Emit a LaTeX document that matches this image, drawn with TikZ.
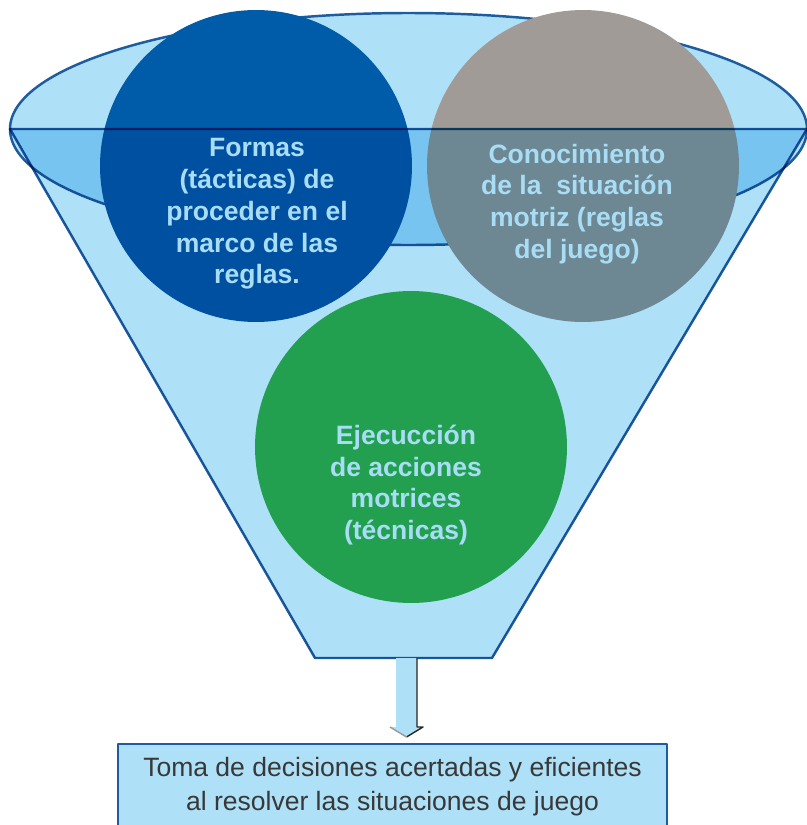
\documentclass[tikz,border=0pt]{standalone}
\usepackage{fontspec}
\setsansfont{Liberation Sans}
\usetikzlibrary{calc}

\definecolor{embudo}{HTML}{AEE0F7}
\definecolor{borde}{HTML}{1D5C9E}
\definecolor{azul}{HTML}{005CA8}
\definecolor{gris}{HTML}{A09B97}
\definecolor{verde}{HTML}{22A050}
\definecolor{letra}{HTML}{A9DDF6}

\begin{document}
\begin{tikzpicture}[x=0.02cm, y=-0.02cm, line join=round,
    contorno/.style={draw=borde, line width=1.4pt, fill=embudo},
    esfera/.style={circle, minimum size=6.24cm, inner sep=0pt},
    rotulo/.style={font=\sffamily\bfseries\fontsize{15.1}{18.1}\selectfont, text=letra, align=center},
    caja/.style={draw=borde, line width=1.4pt, fill=embudo, minimum width=10.98cm, minimum height=1.68cm,
        font=\sffamily\fontsize{15.1}{19.3}\selectfont, text=black!78, align=center},
    sombra/.style={draw=black!85, line width=0.8pt}]
    \useasboundingbox (0,0) rectangle (807,825);
    % boca del embudo
    \draw [contorno] (408.5,129) ellipse [x radius=398.5, y radius=116];
    \node [esfera, fill=azul] (formas) at (256,166) {};
    \node [esfera, fill=gris] (conocimiento) at (583,166) {};
    % cuerpo del embudo
    \begin{scope}[blend mode=multiply]
        \draw [contorno] (10,129) -- (807,129) -- (492,658) -- (315,658) -- cycle;
    \end{scope}
    \node [esfera, fill=verde] (ejecucion) at (411,447) {};

    \node [rotulo] (formas texto) at (257,214) {Formas\\(tácticas) de\\proceder en el\\marco de las\\reglas.};
    \node [rotulo] (conocimiento texto) at (577,204) {Conocimiento\\de la\ \ situación\\motriz (reglas\\del juego)};
    \node [rotulo] (ejecucion texto) at (406,485) {Ejecucción\\de acciones\\motrices\\(técnicas)};

    % salida
    \coordinate (cuello) at (406.5,658);
    \node [caja, anchor=north] (decision) at (392.5,743) {Toma de decisiones acertadas y eficientes\\al resolver las situaciones de juego};
    \coordinate (punta) at ($(decision.north -| cuello)+(0,-6)$);
    \fill [embudo] ($(cuello)+(-10.5,0)$) -- ($(cuello)+(10.5,0)$) -- ($(punta)+(10.5,-10)$) -- ($(punta)+(16.5,-10)$)
        -- (punta) -- ($(punta)+(-16.5,-10)$) -- ($(punta)+(-10.5,-10)$) -- cycle;
    \draw [sombra] ($(cuello)+(10.5,0)$) -- ($(punta)+(10.5,-10)$) -- ($(punta)+(16.5,-10)$) -- (punta);
    \draw [sombra, draw=black!40] (punta) -- ($(punta)+(-16.5,-10)$);
\end{tikzpicture}
\end{document}
